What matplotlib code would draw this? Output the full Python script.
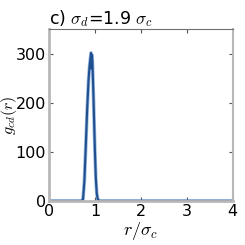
import matplotlib
matplotlib.use("Agg")
import matplotlib.pyplot as plt

plt.rcParams['mathtext.fontset'] = 'cm'

r = [0.0, 0.70, 0.74, 0.77, 0.80, 0.83, 0.86, 0.88, 0.90, 0.915, 0.925, 0.935, 0.945, 0.96, 0.98, 1.00, 1.02, 1.04, 1.06, 1.08, 1.10, 4.0]
g = [0.0, 0.0, 3, 40, 110, 185, 245, 272, 290, 302, 270, 298, 285, 240, 170, 100, 45, 15, 4, 1, 0, 0]

xticks = [0, 1, 2, 3, 4]
yticks = [0, 100, 200, 300]

fig = plt.figure(figsize=(2.45, 2.45), dpi=100)
ax = fig.add_axes([0.2, 0.18, 0.75, 0.70])
ax.plot(r, g, color="#5a8cc8", lw=2.6, alpha=0.6)
ax.plot(r, g, color="#1f4f8f", lw=1.5)
ax.set_xlim(0, 4)
ax.set_ylim(0, 350)
ax.set_xticks(xticks)
ax.set_yticks(yticks)
ax.spines['left'].set_color("#b8b8b8")
ax.spines['bottom'].set_color("#b8b8b8")
ax.spines['right'].set_color("#b8b8b8")
ax.spines['top'].set_color("#707070")
ax.spines['left'].set_linewidth(2)
ax.spines['bottom'].set_linewidth(2)
ax.spines['right'].set_linewidth(1.5)
ax.spines['top'].set_linewidth(0.8)
ax.tick_params(direction="in", labelsize=11.5, top=True, right=True, length=3, color="#555555", pad=2)
ax.set_xlabel(r"$r/\sigma_c$", fontsize=13, labelpad=1)
ax.set_ylabel(r"$g_{cd}(r)$", fontsize=11.5)
ax.yaxis.set_label_coords(-0.165, 0.5)
ax.set_title(r"c) $\sigma_d$=1.9 $\sigma_c$", fontsize=12.5, loc="left", x=0.0, pad=4)
fig.savefig("out.png", dpi=100)
